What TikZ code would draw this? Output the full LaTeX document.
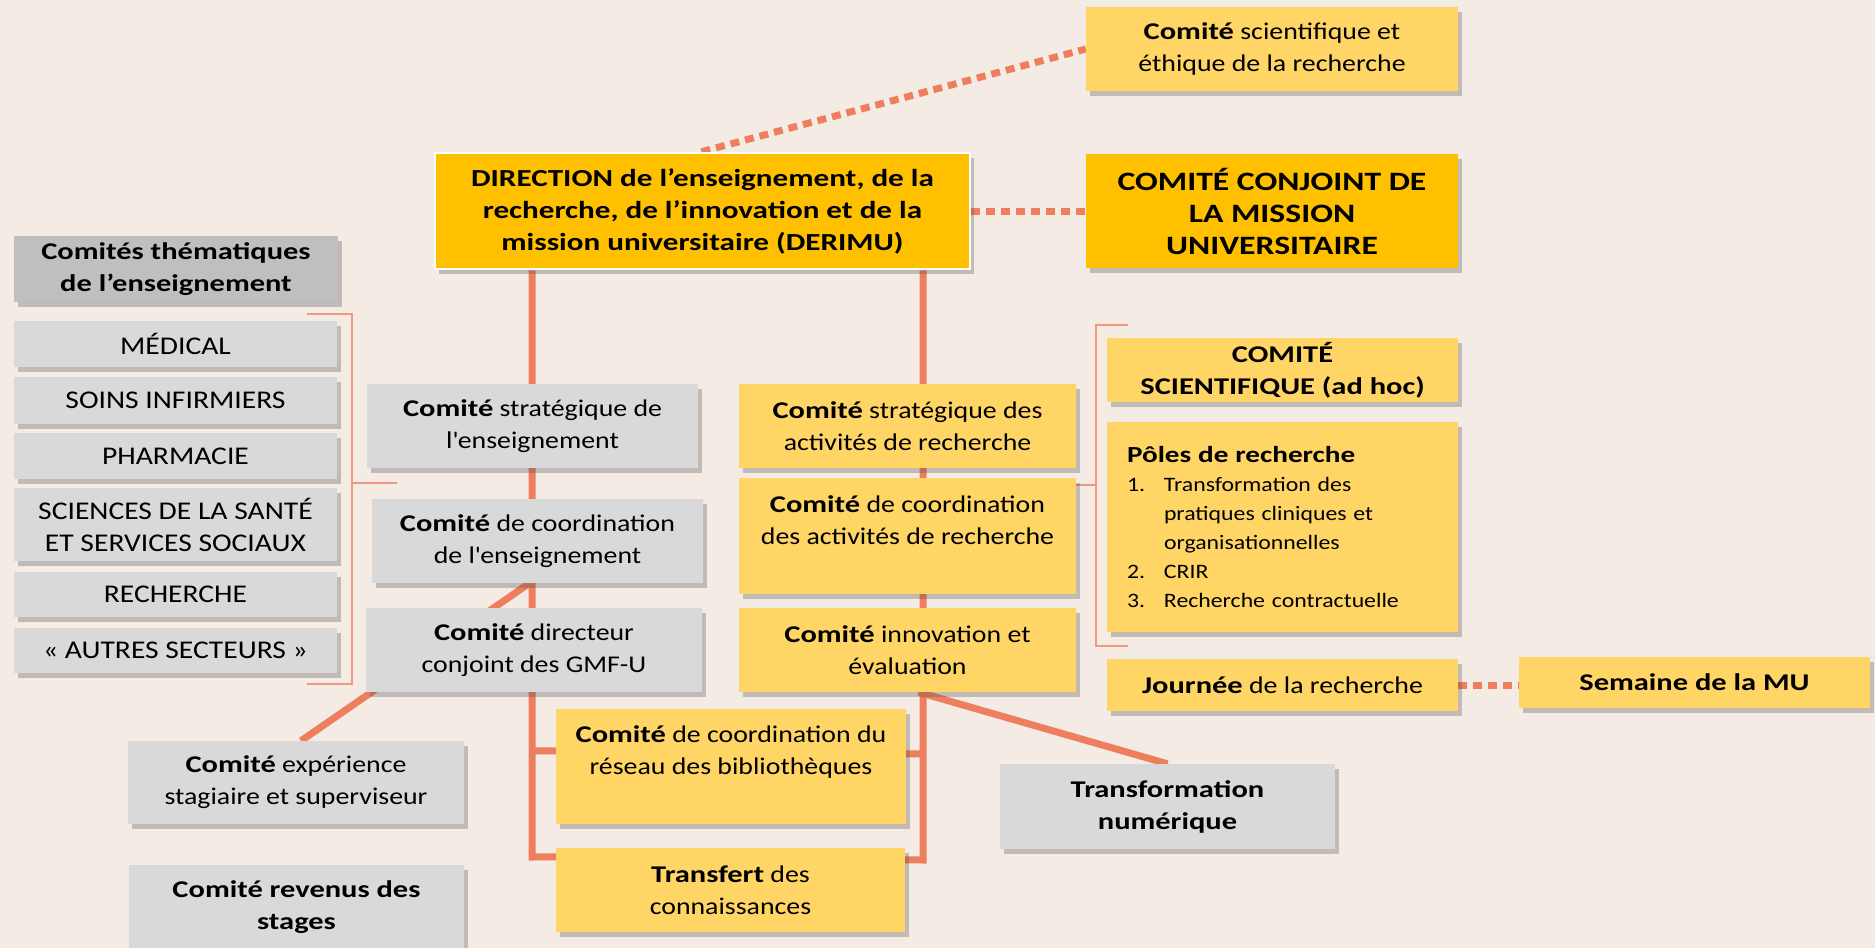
\documentclass[tikz,border=0pt]{standalone}
\usepackage{fontspec}
\setmainfont{Carlito}[FakeStretch=1.16, BoldFeatures={FakeStretch=1.27}]
\usetikzlibrary{shadows,calc}
\pgfdeclarelayer{back}
\pgfdeclarelayer{lines}
\pgfsetlayers{back,lines,main}
\definecolor{bg}{HTML}{F4EBE5}
\definecolor{gold}{HTML}{FFC000}
\definecolor{ly}{HTML}{FFD566}
\definecolor{lg}{HTML}{D9D9D9}
\definecolor{dg}{HTML}{BFBFBF}
\definecolor{ln}{HTML}{EE7F5E}
\tikzset{
 box/.style={rectangle, inner sep=0pt, align=center, text=black,
   font=\fontsize{24}{32}\selectfont,
   drop shadow={shadow xshift=4pt, shadow yshift=-5pt, opacity=0.3, fill=black!70}},
 goldbox/.style={box, fill=gold},
 ybox/.style={box, fill=ly},
 gbox/.style={box, fill=lg},
 capbox/.style={gbox, font=\fontsize{25.5}{32}\selectfont},
 dgbox/.style={box, fill=dg},
 allbold/.style={font=\fontsize{24}{32}\selectfont\bfseries},
 conn/.style={draw=ln, line width=7pt},
 dotc/.style={draw=ln, line width=7pt, dash pattern=on 9pt off 6pt},
 thinline/.style={draw=ln!80, line width=2.5pt},
}
\begin{document}
\begin{tikzpicture}[x=1pt,y=-1pt]
\begin{pgfonlayer}{back}
\fill[bg] (0,0) rectangle (1875,948);
\end{pgfonlayer}
\useasboundingbox (0,0) rectangle (1875,948);

% top
\node[goldbox, draw=white, line width=2.5pt, minimum width=535, minimum height=116,
  font=\fontsize{24.5}{32}\selectfont\bfseries] (derimu) at (702.5,211)
  {DIRECTION de l’enseignement, de la\\recherche, de l’innovation et de la\\mission universitaire (DERIMU)};
\node[ybox, minimum width=372, minimum height=84] (ethique) at (1272,49)
  {\textbf{Comité} scientifique et\\éthique de la recherche};
\node[goldbox, minimum width=372, minimum height=114,
  font=\fontsize{26.5}{32}\selectfont\bfseries] (conjoint) at (1272,211)
  {COMITÉ CONJOINT DE\\LA MISSION\\UNIVERSITAIRE};

% left column
\node[dgbox, allbold, minimum width=324, minimum height=66] (thema) at (176,269)
  {Comités thématiques\\de l’enseignement};
\node[capbox, minimum width=323, minimum height=46] (medical) at (175.5,344) {MÉDICAL};
\node[capbox, minimum width=323, minimum height=47] (soins) at (175.5,400.5) {SOINS INFIRMIERS};
\node[capbox, minimum width=323, minimum height=46] (pharma) at (175.5,456) {PHARMACIE};
\node[capbox, minimum width=323, minimum height=73] (sciences) at (175.5,524.5) {SCIENCES DE LA SANTÉ\\ET SERVICES SOCIAUX};
\node[capbox, minimum width=323, minimum height=45] (recherche) at (175.5,594.5) {RECHERCHE};
\node[capbox, minimum width=323, minimum height=45] (autres) at (175.5,650.5) {«~AUTRES SECTEURS~»};

% middle left column
\node[gbox, minimum width=331, minimum height=84] (stratens) at (532.5,426)
  {\textbf{Comité} stratégique de\\l\textquotesingle enseignement};
\node[gbox, minimum width=331, minimum height=84] (coordens) at (537.5,541)
  {\textbf{Comité} de coordination\\de l\textquotesingle enseignement};
\node[gbox, minimum width=336, minimum height=84] (gmfu) at (534,650)
  {\textbf{Comité} directeur\\conjoint des GMF-U};
\node[gbox, minimum width=336, minimum height=83] (experience) at (296,782.5)
  {\textbf{Comité} expérience\\stagiaire et superviseur};
\node[gbox, allbold, minimum width=335, minimum height=84] (revenus) at (296.5,907)
  {Comité revenus des\\stages};
\node[ybox, minimum width=350, minimum height=115] (biblio) at (731,766.5)
  {\textbf{Comité} de coordination du\\réseau des bibliothèques\\\mbox{}};
\node[ybox, minimum width=349, minimum height=84] (transfert) at (730.5,890)
  {\textbf{Transfert} des\\connaissances};

% middle right column
\node[ybox, minimum width=337, minimum height=84] (stratrech) at (907.5,426)
  {\textbf{Comité} stratégique des\\activités de recherche};
\node[ybox, minimum width=337, minimum height=116] (coordrech) at (907.5,536)
  {\textbf{Comité} de coordination\\des activités de recherche\\\mbox{}};
\node[ybox, minimum width=337, minimum height=84] (innov) at (907.5,650)
  {\textbf{Comité} innovation et\\évaluation};
\node[gbox, allbold, minimum width=335, minimum height=85] (numerique) at (1167.5,806.5)
  {Transformation\\numérique};

% right column
\node[ybox, allbold, minimum width=351, minimum height=64] (sciadhoc) at (1282.5,370)
  {COMITÉ\\SCIENTIFIQUE (ad hoc)};
\node[ybox, minimum width=351, minimum height=210, align=left, text width=311, inner xsep=20pt,
  font=\fontsize{20.5}{29}\selectfont] (poles) at (1282.5,527)
  {{\fontsize{23}{29}\selectfont\textbf{Pôles de recherche}}\\
   \makebox[37pt][l]{1.}Transformation des\\
   \hspace*{37pt}pratiques cliniques et\\
   \hspace*{37pt}organisationnelles\\
   \makebox[37pt][l]{2.}CRIR\\
   \makebox[37pt][l]{3.}Recherche contractuelle};
\node[ybox, minimum width=351, minimum height=52] (journee) at (1282.5,685)
  {\textbf{Journée} de la recherche};
\node[ybox, allbold, minimum width=351, minimum height=51] (semaine) at (1694.5,682.5)
  {Semaine de la MU};

% connectors
\begin{pgfonlayer}{lines}
\draw[dotc] ([xshift=-1pt]derimu.north) -- (ethique.west);
\draw[dotc] (derimu.east) -- (derimu.east -| conjoint.west);
\draw[dotc] (journee.east) -- (journee.east -| semaine.west);
% left trunk
\draw[conn] (derimu.south -| 532,0) -- (532,857) -- ([yshift=-9pt]transfert.north west);
\draw[conn] (532,751) -- ([yshift=-42pt]biblio.north west);
% right trunk
\draw[conn] (derimu.south -| 923,0) -- (923,860) -- ([yshift=-12pt]transfert.north east);
\draw[conn] (923,754) -- ([yshift=-45pt]biblio.north east);
% diagonals
\draw[conn] ([xshift=-8pt]coordens.south) -- ([xshift=5pt]experience.north);
\draw[conn] ([xshift=11pt]innov.south) -- (numerique.north);
% brackets
\coordinate (lbt) at (307,314);
\coordinate (lbb) at (307,684);
\coordinate (lbk) at (397,483);
\draw[thinline] (lbt) -- (352,314) -- (352,684) -- (lbb);
\draw[thinline] (352,483) -- (lbk);
\coordinate (rbt) at (1128,325);
\coordinate (rbb) at (1128,646);
\draw[thinline] (rbt) -- (1096,325) -- (1096,646) -- (rbb);
\draw[thinline] (1096,485) -- (coordrech.east |- 0,485);
\end{pgfonlayer}
\end{tikzpicture}
\end{document}
